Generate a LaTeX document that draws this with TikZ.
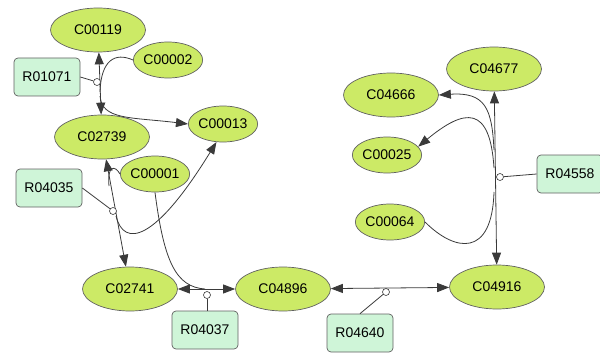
\documentclass[tikz,border=0pt]{standalone}
\usepackage{fontspec}
\setmainfont{Liberation Sans}
\usepackage{tikz}
\usetikzlibrary{positioning, arrows.meta, shapes.geometric}
\definecolor{cpdgreen}{HTML}{CCEA66}
\definecolor{rxnmint}{HTML}{CFF5D8}
\definecolor{edgegray}{HTML}{3A3A3A}

\begin{document}
\begin{tikzpicture}[
  x=1pt, y=-1pt,
  cpd/.style={ellipse, draw=edgegray!80, fill=cpdgreen, line width=0.7pt, inner sep=0pt,
    minimum width=95pt, minimum height=44pt, font=\fontsize{14}{16}\selectfont},
  cpdsmall/.style={cpd, minimum width=62pt, minimum height=36pt},
  rxn/.style={draw=edgegray!80, fill=rxnmint, rounded corners=4pt, line width=0.7pt,
    minimum width=66pt, minimum height=38pt, font=\fontsize{14}{16}\selectfont},
  hub/.style={circle, draw=edgegray, fill=white, inner sep=0pt, minimum size=7pt, line width=0.6pt},
  link/.style={draw=edgegray, line width=0.8pt},
  both/.style={link, {Triangle[length=12pt,width=9pt]}-{Triangle[length=12pt,width=9pt]}},
  toarr/.style={link, -{Triangle[length=12pt,width=9pt]}},
]
\useasboundingbox (0,0) rectangle (600,353);

% Metabolites
\node[cpd] (C00119) at (98,30) {C00119};
\node[cpdsmall] (C00002) at (168,60) {C00002};
\node[cpdsmall] (C00013) at (223,124) {C00013};
\node[cpd] (C02739) at (102,137) {C02739};
\node[cpdsmall] (C00001) at (155,174) {C00001};
\node[cpd] (C02741) at (130,289) {C02741};
\node[cpd] (C04896) at (283,289) {C04896};
\node[cpd] (C04916) at (497,287) {C04916};
\node[cpd] (C04677) at (494,69) {C04677};
\node[cpd] (C04666) at (391,95) {C04666};
\node[cpdsmall] (C00025) at (387,155) {C00025};
\node[cpdsmall] (C00064) at (390,222) {C00064};

% Reactions
\node[rxn] (R01071) at (47,77) {R01071};
\node[rxn] (R04035) at (49,188) {R04035};
\node[rxn] (R04037) at (205,330) {R04037};
\node[rxn] (R04640) at (360,333) {R04640};
\node[rxn] (R04558) at (570,174) {R04558};

% R01071
\coordinate (j1a) at (100,92);
\coordinate (j1b) at (100,96);
\draw[both] (C00119) -- (C02739);
\draw[link] (C00002.west) .. controls (115,52) and (101,60) .. (j1a);
\draw[toarr] (j1b) .. controls (102,120) and (130,117) .. (C00013.west);
\node[hub] (h1) at (97,82) {};
\draw[link] (R01071.east) -- (h1);

% R04035
\coordinate (j2a) at (109,186);
\coordinate (j2b) at (116,216);
\draw[both] (C02739) -- (C02741);
\draw[link] (C00001.west) .. controls (115,165) and (107,165) .. (j2a);
\draw[toarr] (j2b) .. controls (124,248) and (155,242) .. (C00013.250);
\node[hub] (h2) at (113,211) {};
\draw[link] (R04035.east) -- (h2);

% R04037
\coordinate (j3) at (205,289);
\draw[both] (C02741) -- (C04896);
\draw[link] (C00001.south) .. controls (164,262) and (176,287) .. (j3);
\node[hub] (h3) at (207,295) {};
\draw[link] (h3) -- (R04037.north -| h3);

% R04640
\draw[both] (C04896) -- (C04916);
\node[hub] (h4) at (386,292) {};
\draw[link] (h4) -- (R04640.north);

% R04558
\coordinate (j5a) at (494,150);
\coordinate (j5b) at (494,168);
\coordinate (j5c) at (494,192);
\draw[both] (C04677) -- (C04916);
\draw[toarr] (j5a) .. controls (492,108) and (485,92) .. (C04666.east);
\draw[toarr] (j5b) .. controls (490,105) and (465,108) .. (C00025.15);
\draw[link] (C00064.east) .. controls (455,252) and (492,258) .. (j5c);
\node[hub] (h5) at (500,177) {};
\draw[link] (h5) -- (R04558.west);

\end{tikzpicture}
\end{document}
